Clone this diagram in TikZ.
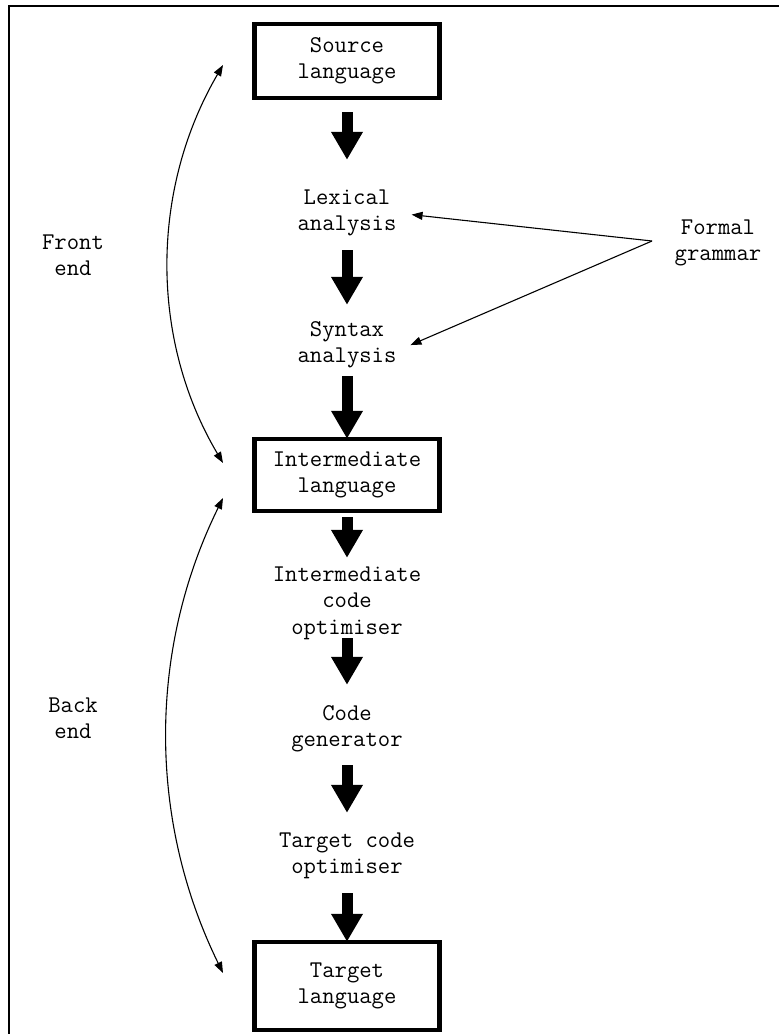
\documentclass[tikz,border=0pt]{standalone}
\usepackage{fontspec}
\usetikzlibrary{arrows.meta}
\begin{document}
\begin{tikzpicture}[x=1pt,y=-1pt,
  every node/.style={font=\ttfamily\fontsize{24}{26.5}\selectfont, align=center, inner sep=0pt},
  langbox/.style={draw, line width=4.5pt, minimum width=185pt},
  twoline/.style={minimum height=50pt},
  threeline/.style={minimum height=78pt},
  fat/.style={line width=11pt, -{Triangle[length=28pt,width=30pt]}},
  thinarrow/.style={line width=1.1pt, -{Triangle[length=11pt,width=8pt]}},
  bothways/.style={line width=1.1pt, {Triangle[length=11pt,width=8pt]}-{Triangle[length=11pt,width=8pt]}},
]
\useasboundingbox (0,0) rectangle (779,1034);

% frame (left and top edges)
\draw[line width=1.6pt] (9,1034) -- (9,6) -- (779,6);

% main chain
\node[langbox, minimum height=74pt] (src) at (347,61) {Source\\language};
\node[twoline] (lex) at (347,213) {Lexical\\analysis};
\node[twoline] (syn) at (347,345) {Syntax\\analysis};
\node[langbox, minimum height=72pt] (inter) at (347,475) {Intermediate\\language};
\node[threeline] (ico) at (347,603) {Intermediate\\code\\optimiser};
\node[twoline] (cg) at (347,729) {Code\\generator};
\node[twoline] (tco) at (347,856) {Target code\\optimiser};
\node[langbox, minimum height=88pt] (tgt) at (347,986) {Target\\language};

\draw[fat, shorten <=12pt, shorten >=28pt] (src.south) -- (lex.north);
\draw[fat, shorten <=12pt, shorten >=15pt] (lex.south) -- (syn.north);
\draw[fat, shorten <=6pt, shorten >=-2pt] (syn.south) -- (inter.north);
\draw[fat, shorten <=4pt, shorten >=6pt] (inter.south) -- (ico.north);
\draw[fat, shorten <=-4pt, shorten >=19pt] (ico.south) -- (cg.north);
\draw[fat, shorten <=11pt, shorten >=18pt] (cg.south) -- (tco.north);
\draw[fat, shorten <=12pt, shorten >=-2pt] (tco.south) -- (tgt.north);

% formal grammar feeds both analysis stages
\node (fg) at (718,243) {Formal\\grammar};
\coordinate (fgv) at (652,241);
\draw[thinarrow, shorten >=15pt] (fgv) -- (lex.east);
\draw[thinarrow, shorten >=15pt] (fgv) -- ([yshift=-6pt]syn.east);

% front end / back end spans
\node (front) at (73,255) {Front\\end};
\node (back) at (73,718) {Back\\end};
\coordinate (fetop) at (223,65);
\coordinate (febot) at (223,463);
\coordinate (betop) at (223,498);
\coordinate (bebot) at (223,973);
\draw[bothways] (fetop) .. controls (150,190) and (150,340) .. (febot);
\draw[bothways] (betop) .. controls (148,650) and (148,820) .. (bebot);
\end{tikzpicture}
\end{document}
